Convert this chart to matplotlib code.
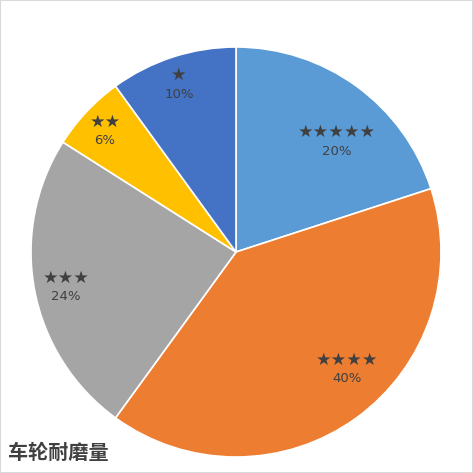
import numpy as np
import matplotlib
matplotlib.use('Agg')
import matplotlib.pyplot as plt
from matplotlib.patches import Rectangle

plt.rcParams['font.family'] = ['DejaVu Sans', 'Noto Sans CJK SC']

# data
labels = ['★★★★★', '★★★★', '★★★', '★★', '★']
shares = [20, 40, 24, 6, 10]
colors = ['#5B9BD5', '#ED7D31', '#A5A5A5', '#FFC000', '#4472C4']
title = '车轮耐磨量'

# label block centres in pie-radius units (Excel best-fit placement)
label_xy = [(0.493, 0.539), (0.541, -0.573), (-0.829, -0.173),
            (-0.639, 0.588), (-0.278, 0.817)]

W = H = 473
fig = plt.figure(figsize=(W / 100, H / 100), dpi=100)
cx, cy, R = 236, 252, 205
ax = fig.add_axes([(cx - R) / W, (H - cy - R) / H, 2 * R / W, 2 * R / H])

wedges, _ = ax.pie(shares, colors=colors, startangle=90, counterclock=False,
                   radius=1, wedgeprops=dict(edgecolor='white', linewidth=1.2))
ax.set_xlim(-1, 1)
ax.set_ylim(-1, 1)
ax.set_aspect('equal')
ax.axis('off')

dy = 9.5 / R
for lab, s, (x, y) in zip(labels, shares, label_xy):
    ax.text(x, y + dy, lab, ha='center', va='center', fontsize=12.5,
            color='#404040')
    ax.text(x, y - dy, f'{s}%', ha='center', va='center', fontsize=9.5,
            color='#404040')

fig.text(8 / W, 1 - 452 / H, title, ha='left', va='center', fontsize=14.5,
         family=['Noto Sans CJK SC'], weight='bold', color='#404040')

fig.patches.append(Rectangle((0, 0), 1, 1, transform=fig.transFigure,
                             fill=False, edgecolor='#D9D9D9', linewidth=1.5))

fig.savefig('out.png', dpi=100)
